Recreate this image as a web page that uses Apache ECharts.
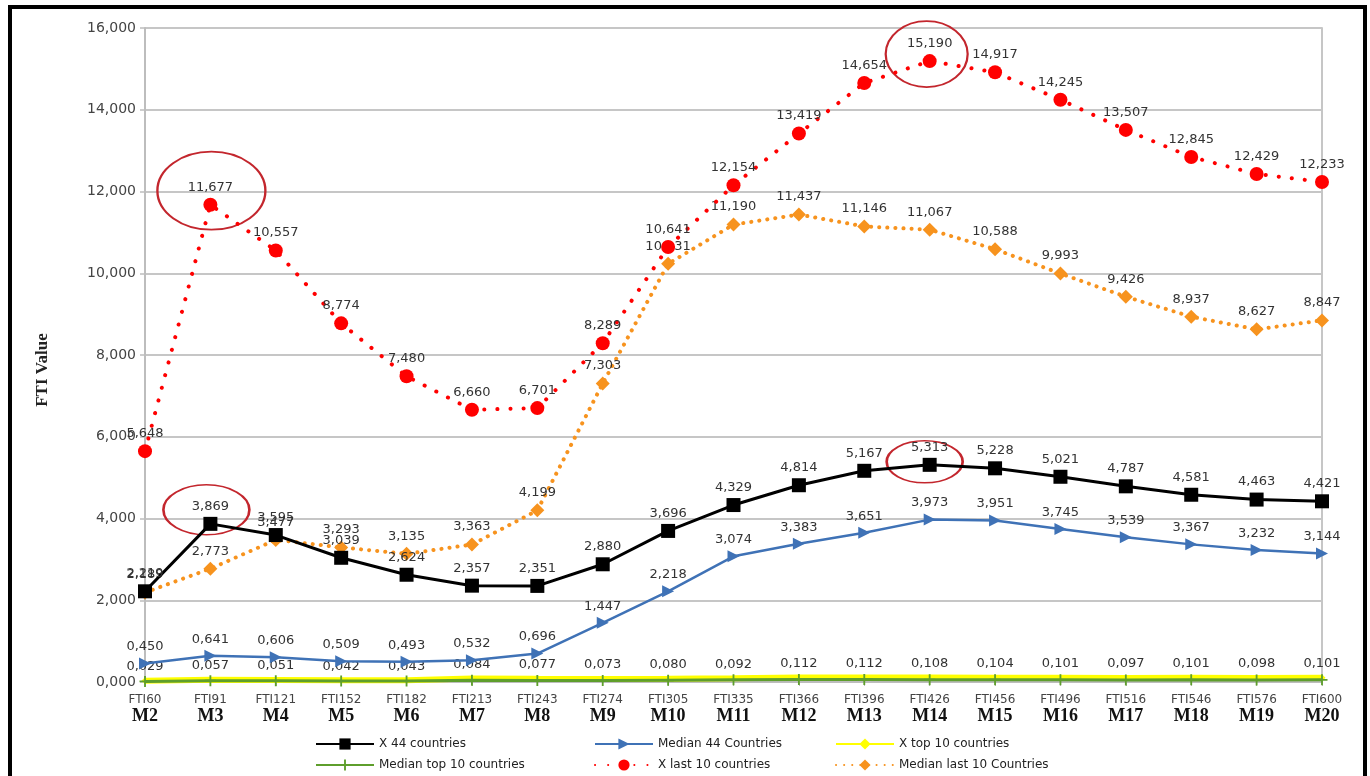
<!DOCTYPE html>
<html>
<head>
<meta charset="utf-8">
<script src="https://cdn.jsdelivr.net/npm/echarts@6/dist/echarts.min.js"></script>
<style>
  html, body { margin: 0; padding: 0; background: #fff; }
  #chart { width: 1370px; height: 776px; }
</style>
</head>
<body>
<div id="chart"></div>
<script>
// Time points (FTI day index + month label)
const ftiLabels = ['FTI60','FTI91','FTI121','FTI152','FTI182','FTI213','FTI243','FTI274','FTI305','FTI335',
                   'FTI366','FTI396','FTI426','FTI456','FTI496','FTI516','FTI546','FTI576','FTI600'];
const monthLabels = ['M2','M3','M4','M5','M6','M7','M8','M9','M10','M11',
                     'M12','M13','M14','M15','M16','M17','M18','M19','M20'];

// FTI values per group
const mean44 = [2.219, 3.869, 3.595, 3.039, 2.624, 2.357, 2.351, 2.880, 3.696, 4.329,
                4.814, 5.167, 5.313, 5.228, 5.021, 4.787, 4.581, 4.463, 4.421];
const median44 = [0.450, 0.641, 0.606, 0.509, 0.493, 0.532, 0.696, 1.447, 2.218, 3.074,
                  3.383, 3.651, 3.973, 3.951, 3.745, 3.539, 3.367, 3.232, 3.144];
const meanTop10 = [0.029, 0.057, 0.051, 0.042, 0.043, 0.084, 0.077, 0.073, 0.080, 0.092,
                   0.112, 0.112, 0.108, 0.104, 0.101, 0.097, 0.101, 0.098, 0.101];
const medianTop10 = [0.015, 0.030, 0.028, 0.022, 0.024, 0.041, 0.038, 0.036, 0.043, 0.052,
                     0.061, 0.060, 0.058, 0.055, 0.054, 0.051, 0.053, 0.050, 0.052];
const meanLast10 = [5.648, 11.677, 10.557, 8.774, 7.480, 6.660, 6.701, 8.289, 10.641, 12.154,
                    13.419, 14.654, 15.190, 14.917, 14.245, 13.507, 12.845, 12.429, 12.233];
const medianLast10 = [2.189, 2.773, 3.477, 3.293, 3.135, 3.363, 4.199, 7.303, 10.231, 11.190,
                      11.437, 11.146, 11.067, 10.588, 9.993, 9.426, 8.937, 8.627, 8.847];

const seriesNames = ['X 44 countries', 'Median 44 Countries', 'X top 10 countries',
                     'Median top 10 countries', 'X last 10 countries', 'Median last 10 Countries'];

const fmt = v => v.toFixed(3).replace('.', ',');
const categories = ftiLabels.map((f, i) => f + '\n' + monthLabels[i]);

const labelStyle = {
  show: true, position: 'top', distance: 4,
  fontFamily: 'DejaVu Sans', fontSize: 13, color: '#333',
  formatter: p => fmt(p.value)
};

const ring = (coord, size, offset) => ({
  coord: coord, symbol: 'circle', symbolSize: size, symbolOffset: offset,
  itemStyle: { color: 'rgba(0,0,0,0)', borderColor: '#c3262d', borderWidth: 2 },
  label: { show: false }
});

const plusPath = 'path://M-1,-6L1,-6L1,-1L6,-1L6,1L1,1L1,6L-1,6L-1,1L-6,1L-6,-1L-1,-1Z';

const legendText = { fontFamily: 'DejaVu Sans', fontSize: 12, color: '#222' };
const legendAt = (name, left, top) => ({
  data: [name], left: left, top: top, itemWidth: 58, itemHeight: 14,
  itemGap: 0, padding: 0, textStyle: legendText, selectedMode: false
});

const chart = echarts.init(document.getElementById('chart'), null, { renderer: 'canvas' });

chart.setOption({
  animation: false,
  backgroundColor: '#fff',
  grid: { left: 145, right: 48, top: 28, bottom: 94 },
  legend: [
    legendAt(seriesNames[0], 315, 738),
    legendAt(seriesNames[1], 594, 738),
    legendAt(seriesNames[2], 835, 738),
    legendAt(seriesNames[3], 315, 759),
    legendAt(seriesNames[4], 594, 759),
    legendAt(seriesNames[5], 835, 759)
  ],
  graphic: [{
    type: 'rect', silent: true,
    shape: { x: 10, y: 7, width: 1355, height: 800 },
    style: { fill: 'none', stroke: '#000', lineWidth: 4 }
  }],
  xAxis: {
    type: 'category', data: categories, boundaryGap: false,
    axisLine: { show: true, lineStyle: { color: '#bdbdbd', width: 2 } },
    axisTick: { show: true, length: 4, lineStyle: { color: '#bdbdbd' } },
    axisLabel: {
      interval: 0, margin: 10,
      formatter: v => {
        const parts = v.split('\n');
        return '{a|' + parts[0] + '}\n{b|' + parts[1] + '}';
      },
      rich: {
        a: { fontFamily: 'DejaVu Sans', fontSize: 12, color: '#444', lineHeight: 15 },
        b: { fontFamily: 'Liberation Serif', fontSize: 18, fontWeight: 'bold', color: '#111', lineHeight: 19 }
      }
    },
    splitLine: { show: false }
  },
  yAxis: [{
    type: 'value', min: 0, max: 16, interval: 2,
    name: 'FTI Value', nameLocation: 'middle', nameGap: 94, nameRotate: 90,
    nameTextStyle: { fontFamily: 'Liberation Serif', fontSize: 17, fontWeight: 'bold', color: '#222',
                     padding: [0, 30, 0, 0] },
    axisLine: { show: true, lineStyle: { color: '#bdbdbd', width: 2 } },
    axisTick: { show: true, length: 5, lineStyle: { color: '#bdbdbd', width: 1.5 } },
    axisLabel: { formatter: v => fmt(v), fontFamily: 'DejaVu Sans', fontSize: 14, color: '#444', margin: 9 },
    splitLine: { show: true, lineStyle: { color: '#c6c6c6', width: 2 } }
  }, {
    type: 'value', min: 0, max: 16, interval: 2, position: 'right',
    axisLine: { show: true, lineStyle: { color: '#c6c6c6', width: 2 } },
    axisTick: { show: false }, axisLabel: { show: false }, splitLine: { show: false }
  }],
  series: [
    {
      name: seriesNames[0], type: 'line', data: mean44, z: 6,
      symbol: 'rect', symbolSize: 14,
      lineStyle: { color: '#000', width: 3 },
      itemStyle: { color: '#000' },
      label: labelStyle,
      markPoint: {
        silent: true,
        data: [ring([1, mean44[1]], [86, 50], [-4, -14]), ring([12, mean44[12]], [76, 42], [-5, -3])]
      }
    },
    {
      name: seriesNames[1], type: 'line', data: median44, z: 4,
      symbol: 'triangle', symbolSize: 12, symbolRotate: -90,
      lineStyle: { color: '#3f72b6', width: 2.5 },
      itemStyle: { color: '#3f72b6' },
      label: labelStyle
    },
    {
      name: seriesNames[2], type: 'line', data: meanTop10, z: 2,
      symbol: 'diamond', symbolSize: 7,
      lineStyle: { color: '#ffff00', width: 6 },
      itemStyle: { color: '#ffff00' },
      label: labelStyle
    },
    {
      name: seriesNames[3], type: 'line', data: medianTop10, z: 3,
      symbol: plusPath, symbolSize: 11,
      lineStyle: { color: '#5e9e2c', width: 3 },
      itemStyle: { color: '#5e9e2c' },
      label: { show: false }
    },
    {
      name: seriesNames[4], type: 'line', data: meanLast10, z: 7,
      symbol: 'circle', symbolSize: 14,
      lineStyle: { color: '#ff0000', width: 4, type: [0.1, 13], cap: 'round' },
      itemStyle: { color: '#ff0000' },
      label: labelStyle,
      markPoint: {
        silent: true,
        data: [ring([1, meanLast10[1]], [108, 78], [1, -14]), ring([12, meanLast10[12]], [82, 66], [-3, -7])]
      }
    },
    {
      name: seriesNames[5], type: 'line', data: medianLast10, z: 5,
      symbol: 'diamond', symbolSize: 14,
      lineStyle: { color: '#f7931e', width: 4, type: [0.1, 8], cap: 'round' },
      itemStyle: { color: '#f7931e' },
      label: labelStyle
    }
  ]
});
</script>
</body>
</html>
